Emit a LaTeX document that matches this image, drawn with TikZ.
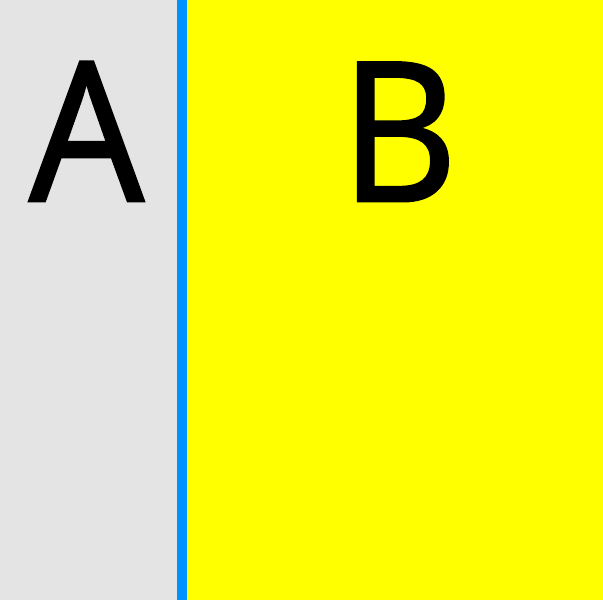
\documentclass[tikz,border=0pt]{standalone}
\usepackage{fontspec}
\setmainfont{Open Sans}
\newfontfamily\letterfont[FakeBold=1.5,FakeStretch=0.93]{Open Sans}
\definecolor{paneA}{RGB}{228,228,228}
\definecolor{paneB}{RGB}{255,255,0}
\definecolor{divider}{RGB}{0,146,255}
\tikzset{letter/.style={anchor=base,inner sep=0pt,font=\letterfont\fontsize{194}{194}\selectfont}}
\begin{document}
\begin{tikzpicture}[x=1pt,y=-1pt]
\useasboundingbox (0,0) rectangle (603,600);
\fill[paneA] (0,0) rectangle (177,600);
\fill[paneB] (187,0) rectangle (603,600);
\fill[divider] (177,0) rectangle (187,600);

\node[letter] (a) at (86.5,201) {A};
\node[letter] (b) at (399,201) {B};
\end{tikzpicture}
\end{document}
